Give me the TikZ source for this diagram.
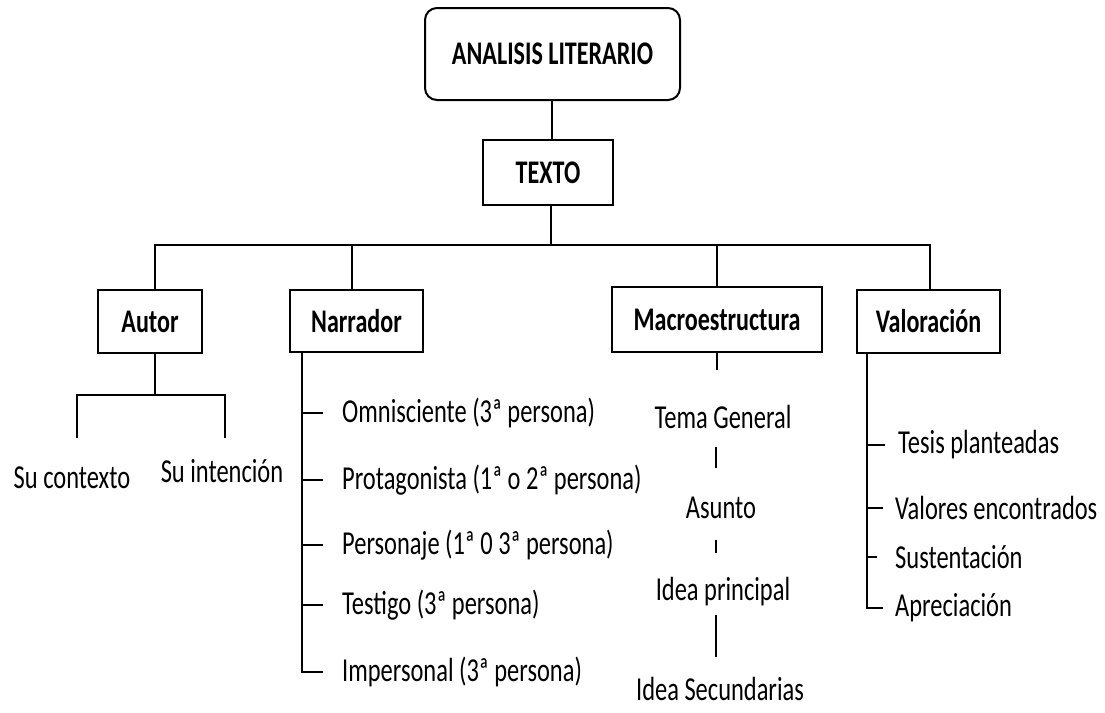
\documentclass[tikz,border=0pt]{standalone}
\usepackage{fontspec}
\setmainfont{Carlito}[FakeStretch=0.73]
\begin{document}
\begin{tikzpicture}[x=1pt,y=-1pt]
\tikzset{
  box/.style={draw, line width=2.6pt, inner sep=0pt, font=\bfseries\fontsize{33}{38}\selectfont},
  conn/.style={line width=2.4pt},
  item/.style={inner sep=0pt, anchor=west, font=\fontsize{33.5}{38}\selectfont},
  citem/.style={inner sep=0pt, font=\fontsize{33.5}{38}\selectfont}
}
\useasboundingbox[fill=white] (0,0) rectangle (1105,712);

% boxes
\node[box, rounded corners=12pt, line width=2pt, minimum width=255pt, minimum height=92pt] (analisis) at (552.5,54) {ANALISIS LITERARIO};
\node[box, minimum width=130pt, minimum height=65pt] (texto) at (548,172.5) {TEXTO};
\node[box, minimum width=104pt, minimum height=63pt] (autor) at (150,321.5) {Autor};
\node[box, minimum width=133pt, minimum height=62pt] (narrador) at (356.5,321) {Narrador};
\node[box, minimum width=210pt, minimum height=65pt] (macro) at (717,319.5) {Macroestructura};
\node[box, minimum width=143pt, minimum height=63pt] (valor) at (928.5,321.5) {Valoración};

\coordinate (bar) at (0,245);
\draw[conn] ([xshift=-0.5pt]analisis.south) -- ([xshift=-0.5pt]analisis.south |- texto.north);
\draw[conn] ([xshift=3pt]texto.south) -- ([xshift=3pt]texto.south |- bar);
\draw[conn] ([xshift=5pt]autor.north) -- ([xshift=5pt]autor.north |- bar) -- ([xshift=1.5pt]valor.north |- bar) -- ([xshift=1.5pt]valor.north);
\draw[conn] ([xshift=-4.5pt]narrador.north) -- ([xshift=-4.5pt]narrador.north |- bar);
\draw[conn] (macro.north) -- (macro.north |- bar);

% Autor
\node[citem] (ctx) at (72,478) {Su contexto};
\node[citem] (int) at (222,471) {Su intención};
\coordinate (asub) at (0,395);
\coordinate (ctxtop) at (77,438);
\coordinate (inttop) at (225,438);
\draw[conn] ([xshift=5pt]autor.south) -- ([xshift=5pt]autor.south |- asub);
\draw[conn] (ctxtop) -- (ctxtop |- asub) -- (inttop |- asub) -- (inttop);

% Narrador
\node[item] (om) at (342,413) {Omnisciente (3ª persona)};
\node[item] (pro) at (342,480) {Protagonista (1ª o 2ª persona)};
\node[item] (per) at (342,545) {Personaje (1ª 0 3ª persona)};
\node[item] (tes) at (342,605) {Testigo (3ª persona)};
\node[item] (imp) at (342,672) {Impersonal (3ª persona)};
\coordinate (nspine) at (302,0);
\draw[conn] (narrador.south -| nspine) -- (nspine |- imp.west) -- ([xshift=-19pt]imp.west);
\foreach \n in {om,pro,per,tes}
  \draw[conn] (nspine |- \n.west) -- ([xshift=-19pt]\n.west);

% Macroestructura
\node[citem] (tema) at (723,417) {Tema General};
\node[citem] (asunto) at (721,508) {Asunto};
\node[citem] (idea) at (723,592) {Idea principal};
\node[citem] (sec) at (720,689) {Idea Secundarias};
\coordinate (m1) at (717,370);
\coordinate (m2a) at (716,447);
\coordinate (m2b) at (716,468);
\coordinate (m3a) at (716,540);
\coordinate (m3b) at (716,553);
\coordinate (m4a) at (716,615);
\coordinate (m4b) at (716,657);
\draw[conn] (macro.south) -- (m1);
\draw[conn] (m2a) -- (m2b);
\draw[conn] (m3a) -- (m3b);
\draw[conn] (m4a) -- (m4b);

% Valoracion
\node[item] (tesis) at (898,445) {Tesis planteadas};
\node[item] (valores) at (895,508) {Valores encontrados};
\node[item] (sust) at (895,557) {Sustentación};
\node[item] (apre) at (895,608) {Apreciación};
\coordinate (vspine) at (867,0);
\draw[conn] (valor.south -| vspine) -- (vspine |- apre.west) -- ([xshift=-12pt]apre.west);
\draw[conn] (vspine |- tesis.west) -- ([xshift=-13pt]tesis.west);
\draw[conn] (vspine |- valores.west) -- ([xshift=-12pt]valores.west);
\draw[conn] (vspine |- sust.west) -- ([xshift=-18pt]sust.west);
\end{tikzpicture}
\end{document}
